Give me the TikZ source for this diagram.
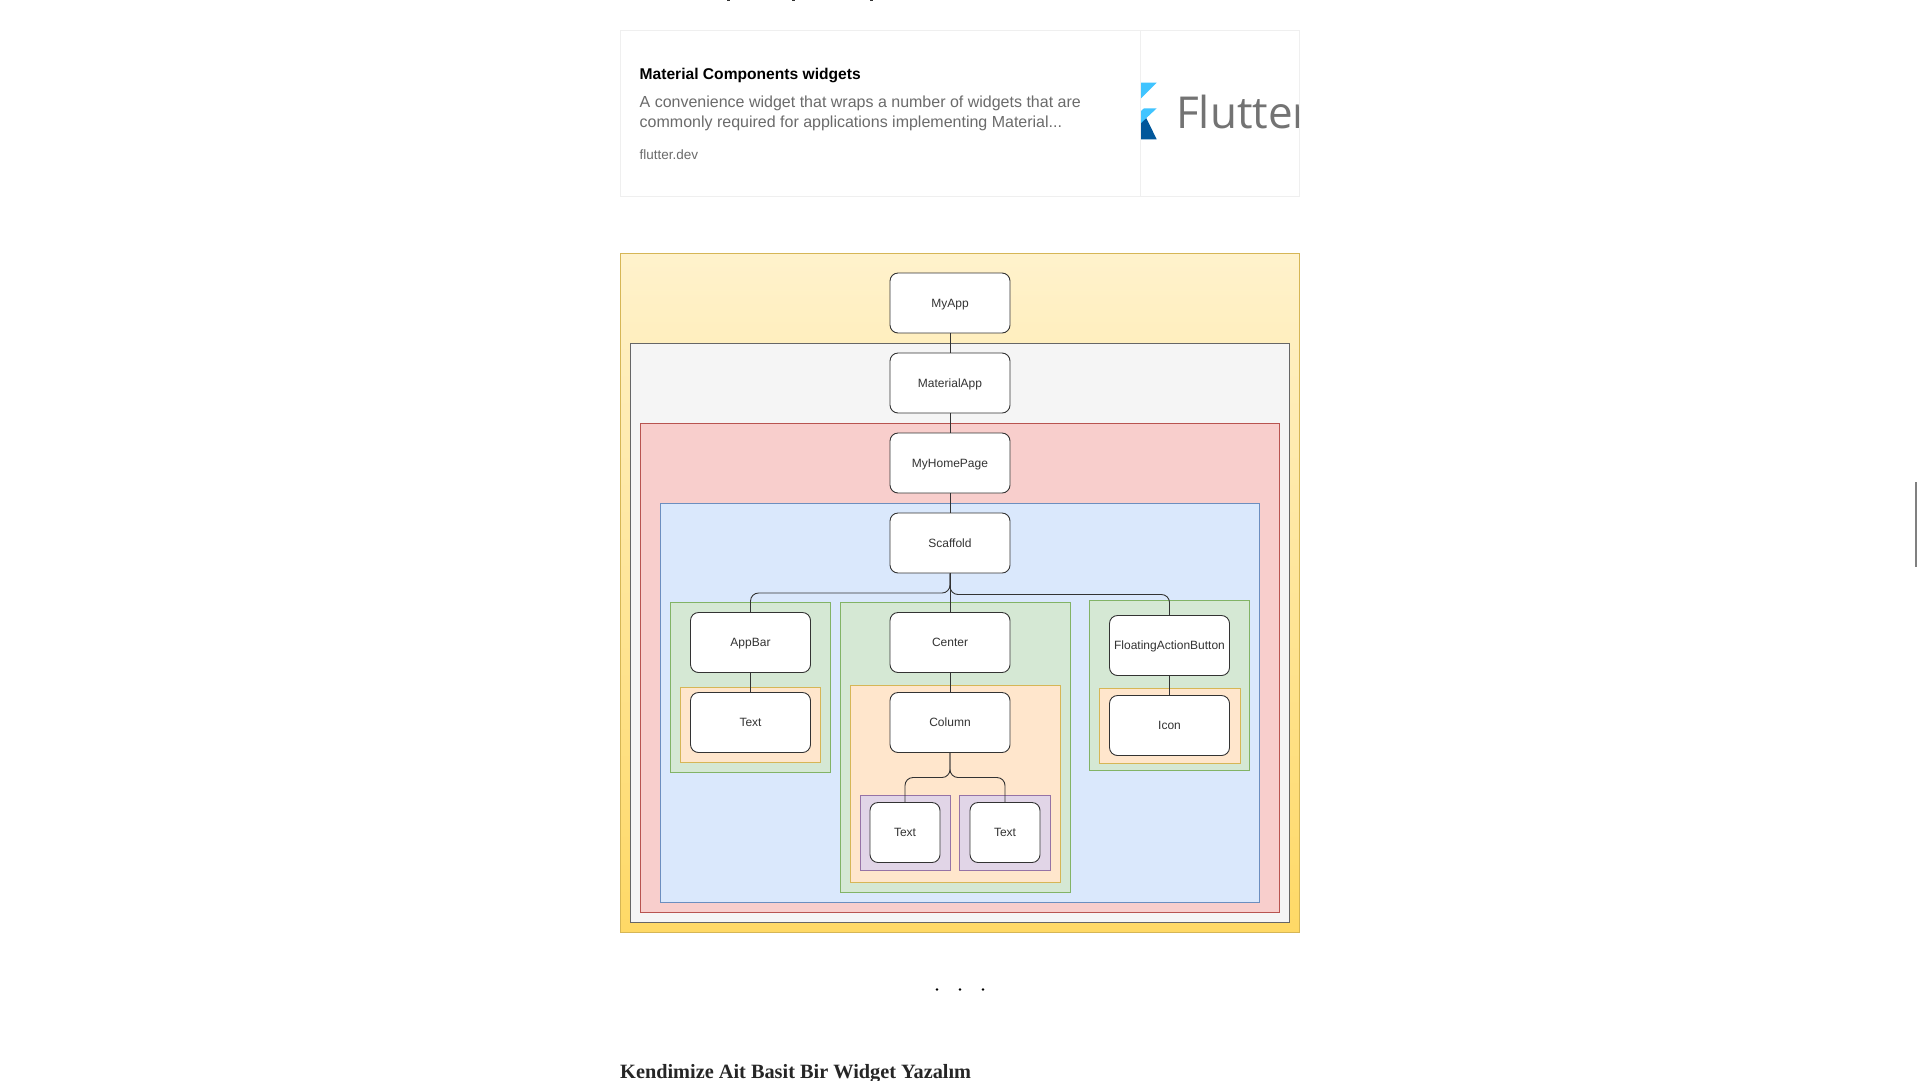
\documentclass[tikz,border=0pt]{standalone}
\usepackage{fontspec}
\setmainfont{Liberation Sans}
\newfontfamily\headfont{Liberation Serif}
\newfontfamily\logofont{Open Sans}
\definecolor{cardline}{HTML}{EFEFEF}
\definecolor{bodygray}{HTML}{6B6B6B}
\definecolor{yellowtop}{HTML}{FFF2CC}
\definecolor{yellowbottom}{HTML}{FFD966}
\definecolor{yellowline}{HTML}{D6B656}
\definecolor{redfill}{HTML}{F8CECC}
\definecolor{redline}{HTML}{B85450}
\definecolor{bluefill}{HTML}{DAE8FC}
\definecolor{blueline}{HTML}{6C8EBF}
\definecolor{greenfill}{HTML}{D5E8D4}
\definecolor{greenline}{HTML}{82B366}
\definecolor{orangefill}{HTML}{FFE6CC}
\definecolor{purplefill}{HTML}{E1D5E7}
\definecolor{purpleline}{HTML}{9673A6}
\definecolor{logolight}{HTML}{40C4FF}
\definecolor{logodark}{HTML}{01579B}
\tikzset{
  widget/.style={draw=black!80, fill=white, rounded corners=8pt, line width=0.9pt, minimum width=120pt, minimum height=60pt, inner sep=0pt, text height=8.6pt, text depth=0pt, font=\fontsize{12}{14}\selectfont, text=black!80},
  smallwidget/.style={widget, minimum width=70pt},
  link/.style={draw=black!80, line width=0.9pt, rounded corners=8pt},
  grayzone/.style={draw=black!60, fill=black!4},
  redzone/.style={draw=redline, fill=redfill},
  bluezone/.style={draw=blueline, fill=bluefill},
  greenzone/.style={draw=greenline, fill=greenfill},
  orangezone/.style={draw=yellowline, fill=orangefill},
  purplezone/.style={draw=purpleline, fill=purplefill}
}
\begin{document}
\begin{tikzpicture}[x=1pt, y=-1pt]
  \useasboundingbox (0,0) rectangle (1920,1080);
  \fill[white] (0,0) rectangle (1920,1080);
  % cut off line above the card
  \foreach \x in {727,792,870}
    \fill[black!80] (\x,0) rectangle (\x+3,1.2);
  % card
  \draw[cardline] (620,30.5) rectangle (1299.5,196);
  \draw[cardline] (1140.5,30.5) -- (1140.5,196);
  \node[anchor=west, inner sep=0pt, font=\bfseries\fontsize{15.6}{17}\selectfont] (cardtitle) at (639.5,75) {Material Components widgets};
  \node[anchor=west, inner sep=0pt, text=bodygray, font=\fontsize{16}{17}\selectfont] (cardline1) at (639.5,103.5) {A convenience widget that wraps a number of widgets that are};
  \node[anchor=west, inner sep=0pt, text=bodygray, font=\fontsize{16}{17}\selectfont] (cardline2) at (639.5,123) {commonly required for applications implementing Material...};
  \node[anchor=west, inner sep=0pt, text=bodygray, font=\fontsize{13.5}{15}\selectfont] (cardsite) at (639.5,154.5) {flutter.dev};
  \begin{scope}
    \clip (1141,31) rectangle (1298,195);
    \fill[logolight] (1141,82.7) -- (1156.7,82.7) -- (1141,98.3) -- cycle;
    \fill[logodark] (1141,119) -- (1145,115.5) -- (1156.7,139.3) -- (1141,139.3) -- cycle;
    \fill[logolight] (1144,108.3) -- (1156.7,108.3) -- (1141,123) -- (1141,111) -- cycle;
    \node[anchor=west, inner sep=0pt, text=black!55, font=\logofont\fontsize{44}{44}\selectfont] (fluttername) at (1176,112) {Flutter};
  \end{scope}
  % zones
  \shade[top color=yellowtop, bottom color=yellowbottom, draw=yellowline] (620,253.5) rectangle (1299.5,932);
  \draw[grayzone] (630.5,343.5) rectangle (1289.5,922);
  \draw[redzone] (640.5,423.5) rectangle (1279.5,912);
  \draw[bluezone] (660.5,503.5) rectangle (1259.5,902);
  \draw[greenzone] (670.5,602.5) rectangle (830.5,772.5);
  \draw[orangezone] (680.5,687.5) rectangle (820.5,762.5);
  \draw[greenzone] (840.5,602.5) rectangle (1070,892);
  \draw[orangezone] (850.5,685.5) rectangle (1060,882);
  \draw[purplezone] (860.5,795.5) rectangle (950,870.5);
  \draw[purplezone] (959.5,795.5) rectangle (1050,870.5);
  \draw[greenzone] (1089.5,600.5) rectangle (1249.5,770.5);
  \draw[orangezone] (1099.5,688.5) rectangle (1240,763);
  % widgets
  \node[widget] (myapp) at (950,303) {MyApp};
  \node[widget] (materialapp) at (950,383) {MaterialApp};
  \node[widget] (myhomepage) at (950,463) {MyHomePage};
  \node[widget] (scaffold) at (950,543) {Scaffold};
  \node[widget] (appbar) at (750.5,642.5) {AppBar};
  \node[widget] (appbartext) at (750.5,722.5) {Text};
  \node[widget] (center) at (950,642.5) {Center};
  \node[widget] (column) at (950,722.5) {Column};
  \node[smallwidget] (lefttext) at (905,832.5) {Text};
  \node[smallwidget] (righttext) at (1005,832.5) {Text};
  \node[widget] (fab) at (1169.5,645.5) {FloatingActionButton};
  \node[widget] (icon) at (1169.5,725.5) {Icon};
  % links
  \foreach \a/\b in {myapp/materialapp, materialapp/myhomepage, myhomepage/scaffold, scaffold/center, center/column, appbar/appbartext, fab/icon}
    \draw[link] (\a.south) -- (\b.north);
  \coordinate (busleft) at (950,593);
  \coordinate (busright) at (950,594.5);
  \coordinate (colbus) at (950,777.5);
  \draw[link] (scaffold.south) -- (busleft) -| (appbar.north);
  \draw[link] (scaffold.south) -- (busright) -| (fab.north);
  \draw[link] (column.south) -- (colbus) -| (lefttext.north);
  \draw[link] (column.south) -- (colbus) -| (righttext.north);
  % section break and next heading
  \foreach \x in {937,960,983}
    \fill (\x,989.5) circle (1.4);
  \node[anchor=west, inner sep=0pt, font=\headfont\bfseries\fontsize{20.3}{24}\selectfont, text=black!85] (nextheading) at (620,1073.5) {Kendimize Ait Basit Bir Widget Yazalım};
  % scrollbar
  \draw[gray, line width=2pt] (1916,482) -- (1916,566.5);
\end{tikzpicture}
\end{document}
